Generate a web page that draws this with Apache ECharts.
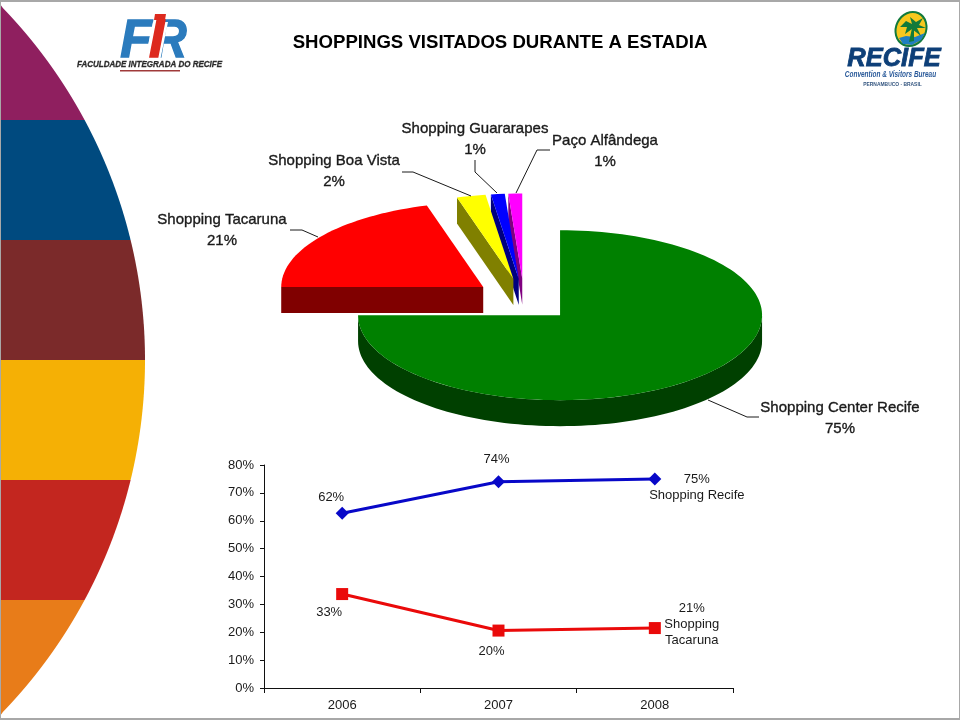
<!DOCTYPE html>
<html>
<head>
<meta charset="utf-8">
<style>html,body{margin:0;padding:0;background:#fff}#c{width:960px;height:720px}</style>
<script src="https://cdn.jsdelivr.net/npm/echarts@6/dist/echarts.min.js"></script>
</head>
<body>
<div id="c"></div>
<script>
// ---- data ----
var titleText = 'SHOPPINGS VISITADOS DURANTE A ESTADIA';
var pieNames = ['Shopping Center Recife', 'Shopping Tacaruna', 'Shopping Boa Vista', 'Shopping Guararapes', 'Paço Alfândega'];
var pieValues = [75, 20.5, 2.3, 1.1, 1.1];
var pieLabels = ['75%', '21%', '2%', '1%', '1%'];
var years = ['2006', '2007', '2008'];
var recifeValues = [62.7, 74, 75];
var tacarunaValues = [33.7, 20.6, 21.5];
var recifeLabels = ['62%', '74%', '75%\nShopping Recife'];
var tacarunaLabels = ['33%', '20%', '21%\nShopping\nTacaruna'];
var bandColors = ['#8f1f5f', '#004a7f', '#7b2a2a', '#f5b005', '#c3261f', '#e87c19'];

// ---- layout / style (not data) ----
var FONT = '"Liberation Sans", Arial, sans-serif';
var topColors = ['#008000', '#ff0000', '#ffff00', '#0000ff', '#ff00ff'];
var wallColors = ['#004000', '#800000', '#808000', '#000080', '#800080'];
var stackOrder = [5, 4, 3, 2, 1];
var PIE = { cx: 524, cy: 300, rx: 202, ry: 85, explode: 51, depth: 26 };
var labelBoxes = [
  { x: 840, y: 408, line: [[708, 400], [747, 417], [759, 417]] },
  { x: 222, y: 220, line: [[290, 230], [302, 230], [318, 237]] },
  { x: 334, y: 161, line: [[402, 172], [413, 172], [471, 196]] },
  { x: 475, y: 129, line: [[475, 160], [475, 172], [497, 193]] },
  { x: 605, y: 141, line: [[550, 150], [537, 150], [516, 193]] }
];
var recifeOffsets = [[-11, -16], [-2, -22], [42, 8]];
var tacarunaOffsets = [[-13, 18], [-7, 21], [37, -4]];

function toRad(d) { return d * Math.PI / 180; }
function pt(c, deg, dz) {
  return [c[0] + PIE.rx * Math.sin(toRad(deg)), c[1] - PIE.ry * Math.cos(toRad(deg)) + (dz || 0)];
}
function arcPts(c, a, b, dz) {
  var out = [], n = Math.max(2, Math.ceil((b - a) / 2));
  for (var i = 0; i <= n; i++) out.push(pt(c, a + (b - a) * i / n, dz));
  return out;
}
var pieTotal = pieValues.reduce(function (s, v) { return s + v; }, 0);

function renderSlice(params, api) {
  var idx = params.dataIndex;
  var before = 0;
  for (var i = 0; i < idx; i++) before += pieValues[i];
  var a = before / pieTotal * 360;
  var b = (before + api.value(0)) / pieTotal * 360;
  var mid = toRad((a + b) / 2);
  var c = [
    PIE.cx + PIE.explode * Math.sin(mid),
    PIE.cy - PIE.explode * PIE.ry / PIE.rx * Math.cos(mid)
  ];
  var z = stackOrder[idx] * 10;
  var d = PIE.depth;
  var kids = [];
  function wall(points) {
    kids.push({ type: 'polygon', z2: z, shape: { points: points }, style: { fill: wallColors[idx] } });
  }
  // radial wall at the start of the slice
  if (Math.sin(toRad(a)) < -1e-6) {
    var p = pt(c, a);
    wall([c, p, [p[0], p[1] + d], [c[0], c[1] + d]]);
  }
  // radial wall at the end of the slice
  if (Math.sin(toRad(b)) > 1e-6) {
    var q = pt(c, b);
    wall([c, q, [q[0], q[1] + d], [c[0], c[1] + d]]);
  }
  // outer wall for the front half of the ellipse
  var wa = Math.max(a, 90), wb = Math.min(b, 270);
  if (wb > wa) {
    wall(arcPts(c, wa, wb, 0).concat(arcPts(c, wa, wb, d).reverse()));
  }
  // top face
  kids.push({
    type: 'polygon', z2: z + 1,
    shape: { points: [c].concat(arcPts(c, a, b, 0)) },
    style: { fill: topColors[idx] }
  });
  // leader line and labels
  var box = labelBoxes[idx];
  kids.push({
    type: 'polyline', z2: 100,
    shape: { points: box.line },
    style: { fill: null, stroke: '#1a1a1a', lineWidth: 1 }
  });
  kids.push({
    type: 'text', z2: 101,
    style: {
      text: pieNames[idx] + '\n' + pieLabels[idx],
      x: box.x, y: box.y - 10,
      align: 'center', verticalAlign: 'top',
      font: '15px ' + FONT, lineHeight: 20.5,
      fill: '#1a1a1a', stroke: '#1a1a1a', lineWidth: 0.35
    }
  });
  return { type: 'group', children: kids };
}

// decorative stripes on the left edge
var bandGraphics = bandColors.map(function (color, i) {
  var top = i * 120, bottom = Math.min(720, top + 120);
  var pts = [[0, top]];
  for (var y = top; y <= bottom; y += 4) {
    var x = Math.sqrt(Math.max(0, 507 * 507 - (y - 360) * (y - 360))) - 362;
    pts.push([Math.max(0, x), y]);
  }
  pts.push([0, bottom]);
  return { type: 'polygon', shape: { points: pts }, style: { fill: color }, silent: true, z: 0 };
});

function gText(text, x, y, font, fill, extra, weight) {
  var style = { text: text, x: 0, y: 0, font: font, fill: fill, align: 'center', verticalAlign: 'middle' };
  if (weight) { style.stroke = fill; style.lineWidth = weight; }
  var el = { type: 'text', x: x, y: y, style: style, silent: true, z: 2 };
  if (extra) for (var k in extra) el[k] = extra[k];
  return el;
}

var logoGraphics = [
  // FIR logo
  gText('F', 136, 42, 'italic bold 54px ' + FONT, '#2b7bbd', { scaleX: 0.95 }, 1.5),
  gText('R', 170, 42, 'italic bold 54px ' + FONT, '#2b7bbd', { scaleX: 0.85 }, 1.5),
  { type: 'polygon', z: 3, silent: true, shape: { points: [[153, 22], [168, 22], [160, 61], [145, 61]] }, style: { fill: '#ffffff' } },
  gText('I', 156.5, 42, 'italic bold 54px ' + FONT, '#dd2a1e', { z: 4 }, 1.5),
  { type: 'polygon', z: 4, silent: true, shape: { points: [[155, 14], [166, 14], [165, 20], [154, 20]] }, style: { fill: '#dd2a1e' } },
  gText('FACULDADE INTEGRADA DO RECIFE', 149.5, 65, 'italic bold 9px ' + FONT, '#2a2a2a', { scaleX: 0.89 }, 0.3),
  { type: 'rect', z: 2, silent: true, shape: { x: 120, y: 70, width: 60, height: 1.5 }, style: { fill: '#a03a3a' } },
  // RECIFE logo
  { type: 'ellipse', z: 2, silent: true, shape: { cx: 911, cy: 29, rx: 15, ry: 17.5 }, rotation: -0.45, originX: 911, originY: 29, style: { fill: '#f7c81e', stroke: '#117a3c', lineWidth: 2 } },
  { type: 'polygon', z: 3, silent: true, shape: { points: [[899, 38], [906, 36], [915, 37], [925, 33], [921, 40], [912, 45], [903, 44]] }, style: { fill: '#1f7fc0' } },
  { type: 'polygon', z: 4, silent: true, shape: { points: [[909, 42], [912, 28], [914, 28], [914, 41]] }, style: { fill: '#127a3a' } },
  { type: 'polygon', z: 4, silent: true, shape: { points: [[900, 27], [906, 21], [912, 24], [910, 17], [916, 22], [923, 18], [919, 25], [926, 28], [917, 28], [921, 36], [912, 29], [905, 34], [907, 27]] }, style: { fill: '#127a3a' } },
  gText('RECIFE', 894, 59, 'italic bold 25.5px ' + FONT, '#0d3f78', null, 0.8),
  gText('Convention & Visitors Bureau', 890.5, 74, 'italic bold 9.5px ' + FONT, '#2a5a9a', { scaleX: 0.68 }),
  gText('PERNAMBUCO - BRASIL', 892.5, 84, 'bold 5.6px ' + FONT, '#33557f', { scaleX: 0.88 }),
  // page frame
  { type: 'rect', z: 5, silent: true, shape: { x: 0.5, y: 0.5, width: 959, height: 719 }, style: { fill: null, stroke: '#a8a8a8', lineWidth: 1 } },
  { type: 'rect', z: 5, silent: true, shape: { x: 0, y: 0, width: 960, height: 2 }, style: { fill: '#a8a8a8' } },
  { type: 'rect', z: 5, silent: true, shape: { x: 0, y: 718, width: 960, height: 2 }, style: { fill: '#a8a8a8' } }
];

function lineData(values, labels, offsets) {
  return values.map(function (v, i) {
    return { value: v, label: { formatter: labels[i], offset: offsets[i] } };
  });
}

var chart = echarts.init(document.getElementById('c'), null, { renderer: 'canvas' });
chart.setOption({
  animation: false,
  backgroundColor: '#ffffff',
  textStyle: { fontFamily: FONT },
  title: {
    text: titleText, left: 495, top: 28, textAlign: 'center',
    textStyle: { fontFamily: FONT, fontSize: 18.6, fontWeight: 'bold', color: '#000' }
  },
  graphic: { elements: bandGraphics.concat(logoGraphics) },
  grid: { left: 264, right: 227, top: 465, bottom: 32, containLabel: false },
  xAxis: {
    type: 'category', data: years, boundaryGap: true,
    axisLine: { lineStyle: { color: '#111', width: 1 } },
    axisTick: { show: true, alignWithLabel: false, length: 5, lineStyle: { color: '#111' } },
    axisLabel: { color: '#1a1a1a', fontSize: 13, margin: 11, fontFamily: FONT }
  },
  yAxis: {
    type: 'value', min: 0, max: 80, interval: 10,
    splitLine: { show: false },
    axisLine: { show: true, lineStyle: { color: '#111', width: 1 } },
    axisTick: { show: true, length: 4, lineStyle: { color: '#111' } },
    axisLabel: { color: '#1a1a1a', fontSize: 13, margin: 10, fontFamily: FONT, formatter: '{value}%' }
  },
  series: [
    {
      type: 'custom', coordinateSystem: 'none', silent: true,
      data: pieValues.map(function (v) { return [v]; }),
      renderItem: renderSlice, clip: false, z: 3
    },
    {
      type: 'line', name: 'Shopping Recife', data: lineData(recifeValues, recifeLabels, recifeOffsets),
      symbol: 'diamond', symbolSize: 13, showAllSymbol: true,
      lineStyle: { color: '#0808c8', width: 3 }, itemStyle: { color: '#0808c8' },
      label: { show: true, position: 'inside', color: '#1a1a1a', fontSize: 13, lineHeight: 16, fontFamily: FONT, align: 'center', verticalAlign: 'middle' },
      z: 4
    },
    {
      type: 'line', name: 'Shopping Tacaruna', data: lineData(tacarunaValues, tacarunaLabels, tacarunaOffsets),
      symbol: 'rect', symbolSize: 12, showAllSymbol: true,
      lineStyle: { color: '#ea0a0a', width: 3 }, itemStyle: { color: '#ea0a0a' },
      label: { show: true, position: 'inside', color: '#1a1a1a', fontSize: 13, lineHeight: 16, fontFamily: FONT, align: 'center', verticalAlign: 'middle' },
      z: 4
    }
  ]
});
</script>
</body>
</html>
